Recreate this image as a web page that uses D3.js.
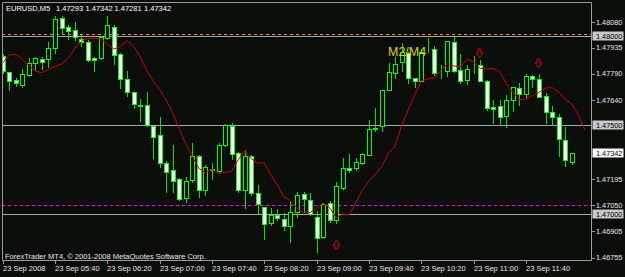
<!DOCTYPE html>
<html>
<head>
<meta charset="utf-8">
<title>EURUSD M5</title>
<script src="https://d3js.org/d3.v7.min.js"></script>
<style>
body { margin: 0; background: #0b0d0b; }
svg text { font-family: "Liberation Sans", Arial, sans-serif; }
</style>
</head>
<body>
<div id="chart"></div>
<script>
// 5 minute bars from 23 Sep 05:00
var opens = [1.47889,1.47798,1.47752,1.47728,1.47782,1.47848,1.47871,1.47871,1.47932,1.48101,
  1.48050,1.48035,1.47985,1.47969,1.47876,1.47876,1.47988,1.48054,1.47899,1.47760,
  1.47685,1.47614,1.47614,1.47496,1.47445,1.47287,1.47249,1.47197,1.47090,1.47189,
  1.47328,1.47137,1.47248,1.47245,1.47389,1.47496,1.47343,1.47137,1.47328,1.47118,
  1.47040,1.46950,1.46997,1.46973,1.46931,1.47012,1.47113,1.47081,1.46984,1.46869,
  1.47062,1.46965,1.47146,1.47259,1.47262,1.47290,1.47333,1.47480,1.47498,1.47698,
  1.47795,1.47854,1.47904,1.47764,1.47750,1.47920,1.47927,1.47803,1.47805,1.47966,
  1.47810,1.47754,1.47830,1.47839,1.47750,1.47601,1.47610,1.47554,1.47642,1.47708,
  1.47674,1.47777,1.47758,1.47665,1.47573,1.47545,1.47414,1.47293];
var highs = [1.47900,1.47800,1.47765,1.47814,1.47880,1.47885,1.47885,1.47969,1.48114,1.48114,
  1.48063,1.48078,1.48007,1.47979,1.47885,1.48003,1.48114,1.48063,1.47908,1.47807,
  1.47689,1.47646,1.47689,1.47498,1.47545,1.47296,1.47389,1.47205,1.47211,1.47402,
  1.47333,1.47277,1.47287,1.47400,1.47507,1.47515,1.47350,1.47361,1.47330,1.47161,
  1.47042,1.47034,1.47028,1.47006,1.47071,1.47127,1.47127,1.47120,1.47015,1.47062,
  1.47071,1.47183,1.47315,1.47338,1.47318,1.47345,1.47530,1.47595,1.47700,1.47848,
  1.47885,1.47960,1.47913,1.47766,1.47927,1.47988,1.47945,1.47839,1.47973,1.47994,
  1.47900,1.47839,1.47889,1.47867,1.47752,1.47642,1.47642,1.47670,1.47717,1.47739,
  1.47786,1.47780,1.47788,1.47680,1.47608,1.47563,1.47489,1.47342];
var lows = [1.47795,1.47698,1.47721,1.47717,1.47777,1.47810,1.47815,1.47826,1.47904,1.48013,
  1.47983,1.47979,1.47947,1.47862,1.47807,1.47872,1.47983,1.47842,1.47708,1.47665,
  1.47595,1.47524,1.47496,1.47315,1.47267,1.47127,1.47127,1.47080,1.47066,1.47183,
  1.47099,1.47109,1.47197,1.47230,1.47384,1.47309,1.47127,1.47034,1.47105,1.47006,
  1.46860,1.46940,1.46965,1.46912,1.46843,1.46984,1.47012,1.46995,1.46785,1.46866,
  1.46958,1.46950,1.47140,1.47236,1.47249,1.47283,1.47330,1.47470,1.47468,1.47695,
  1.47764,1.47805,1.47739,1.47717,1.47748,1.47913,1.47782,1.47764,1.47778,1.47801,
  1.47739,1.47732,1.47792,1.47748,1.47586,1.47515,1.47502,1.47489,1.47582,1.47614,
  1.47657,1.47713,1.47657,1.47511,1.47502,1.47328,1.47271,1.47281];
var closes = [1.47805,1.47749,1.47737,1.47788,1.47848,1.47876,1.47857,1.47932,1.48097,1.48045,
  1.48028,1.47997,1.47969,1.47867,1.47867,1.47997,1.48063,1.47895,1.47760,1.47685,
  1.47618,1.47607,1.47502,1.47436,1.47287,1.47236,1.47187,1.47086,1.47187,1.47328,
  1.47137,1.47264,1.47254,1.47389,1.47502,1.47339,1.47137,1.47328,1.47118,1.47056,
  1.46944,1.46993,1.46978,1.46931,1.47012,1.47105,1.47086,1.47000,1.46866,1.47056,
  1.46965,1.47159,1.47259,1.47249,1.47292,1.47339,1.47479,1.47486,1.47698,1.47798,
  1.47842,1.47910,1.47764,1.47750,1.47913,1.47925,1.47795,1.47807,1.47973,1.47805,
  1.47750,1.47814,1.47835,1.47750,1.47595,1.47590,1.47545,1.47642,1.47713,1.47676,
  1.47777,1.47758,1.47661,1.47573,1.47548,1.47421,1.47305,1.47342];

// shifted moving average (runs two bars past the last candle)
var ma = [1.47850,1.47895,1.47900,1.47869,1.47836,1.47805,1.47794,1.47813,1.47830,1.47844,
  1.47875,1.47931,1.47971,1.47988,1.47988,1.47985,1.47956,1.47928,1.47942,1.47976,
  1.47945,1.47885,1.47810,1.47749,1.47701,1.47642,1.47569,1.47479,1.47395,1.47322,
  1.47257,1.47232,1.47252,1.47227,1.47236,1.47239,1.47305,1.47356,1.47311,1.47287,
  1.47288,1.47221,1.47165,1.47097,1.47075,1.47033,1.47006,1.47009,1.47034,1.47062,
  1.47036,1.46980,1.47000,1.46996,1.47064,1.47134,1.47187,1.47224,1.47271,1.47344,
  1.47384,1.47496,1.47586,1.47670,1.47749,1.47760,1.47766,1.47808,1.47847,1.47833,
  1.47827,1.47871,1.47855,1.47820,1.47816,1.47819,1.47799,1.47735,1.47684,1.47645,
  1.47645,1.47667,1.47684,1.47709,1.47711,1.47687,1.47645,1.47620,1.47558,1.47474];

var priceTicks = [1.48080, 1.47935, 1.47790, 1.47640, 1.47195, 1.47050, 1.46905, 1.46755];
var levelPrices = [1.48000, 1.47500, 1.47000];
var lastPrice = 1.47342;
var orangeLevel = 1.48012;
var magentaLevel = 1.47050;
var timeTickBars = [0, 8, 16, 24, 32, 40, 48, 56, 64, 72, 80];
var timeLabels = ["23 Sep 2008", "23 Sep 05:40", "23 Sep 06:20", "23 Sep 07:00", "23 Sep 07:40",
  "23 Sep 08:20", "23 Sep 09:00", "23 Sep 09:40", "23 Sep 10:20", "23 Sep 11:00", "23 Sep 11:40"];
var downArrowBars = [73, 82], downArrowPrices = [1.47906, 1.47851];
var upArrowBars = [51], upArrowPrices = [1.46832];
var headerParts = ["EURUSD,M5", "1.47293", "1.47342", "1.47281", "1.47342"];

var W = 625, H = 277,
    pLeft = 2, pTop = 2, pRight = 591, pBottom = 260;

var x = d3.scaleLinear().domain([0, 80]).range([2.7, 525.9]);
var y = d3.scaleLinear().domain([1.46755, 1.48080]).range([257.7, 22]);

var svg = d3.select('#chart').append('svg')
    .attr('width', W).attr('height', H)
    .style('display', 'block');

svg.append('rect').attr('width', W).attr('height', H).attr('fill', '#0b0d0b');

svg.append('defs').append('clipPath').attr('id', 'plot')
  .append('rect').attr('x', pLeft).attr('y', pTop).attr('width', pRight - pLeft).attr('height', pBottom - pTop);

var plot = svg.append('g').attr('clip-path', 'url(#plot)');

function py(p) { return Math.round(y(p)) + 0.5; }
function px(i) { return Math.round(x(i)); }

// level lines
plot.selectAll('.lvl').data(levelPrices).enter().append('line')
  .attr('x1', pLeft).attr('x2', pRight)
  .attr('y1', py).attr('y2', py)
  .attr('stroke', '#a8a8a8').attr('stroke-width', 1);

plot.append('line').attr('x1', pLeft).attr('x2', pRight)
  .attr('y1', py(orangeLevel)).attr('y2', py(orangeLevel))
  .attr('stroke', '#ff8c00').attr('stroke-dasharray', '3,3');

plot.append('line').attr('x1', pLeft).attr('x2', pRight)
  .attr('y1', py(magentaLevel)).attr('y2', py(magentaLevel))
  .attr('stroke', '#ff00ff').attr('stroke-dasharray', '3,3');

// candles
var bars = d3.range(opens.length);
var cg = plot.append('g');

cg.selectAll('.wick').data(bars).enter().append('line')
  .attr('x1', function(i) { return px(i) + 0.5; })
  .attr('x2', function(i) { return px(i) + 0.5; })
  .attr('y1', function(i) { return Math.round(y(highs[i])); })
  .attr('y2', function(i) { return Math.round(y(lows[i])) + 1; })
  .attr('stroke', '#00e000');

cg.selectAll('.body').data(bars).enter().append('rect')
  .attr('x', function(i) { return px(i) - 2 + 0.5; })
  .attr('y', function(i) { return py(Math.max(opens[i], closes[i])); })
  .attr('width', 4)
  .attr('height', function(i) {
    return Math.max(0, py(Math.min(opens[i], closes[i])) - py(Math.max(opens[i], closes[i])));
  })
  .attr('fill', function(i) { return closes[i] < opens[i] ? '#ffffff' : '#0b0d0b'; })
  .attr('stroke', '#00ff00');

// moving average
plot.append('path')
  .datum(ma)
  .attr('d', d3.line().x(function(d, i) { return x(i); }).y(function(d) { return y(d); }))
  .attr('fill', 'none').attr('stroke', '#c80000').attr('stroke-width', 1);

// signal arrows
function arrow(cx, cy, dir) {
  var s = dir, t = cy - 4.5 * s;
  return 'M' + (cx - 1.5) + ',' + t +
    'L' + (cx + 1.5) + ',' + t +
    'L' + (cx + 1.5) + ',' + (t + 4 * s) +
    'L' + (cx + 3.5) + ',' + (t + 4 * s) +
    'L' + cx + ',' + (t + 9 * s) +
    'L' + (cx - 3.5) + ',' + (t + 4 * s) +
    'L' + (cx - 1.5) + ',' + (t + 4 * s) + 'Z';
}
plot.selectAll('.dn').data(downArrowBars).enter().append('path')
  .attr('d', function(b, k) { return arrow(px(b) - 0.5, py(downArrowPrices[k]), 1); })
  .attr('fill', 'none').attr('stroke', '#d00000');
plot.selectAll('.up').data(upArrowBars).enter().append('path')
  .attr('d', function(b, k) { return arrow(px(b) + 0.5, py(upArrowPrices[k]), -1); })
  .attr('fill', 'none').attr('stroke', '#d00000');

// object label
plot.append('text').attr('x', 388).attr('y', 56)
  .attr('font-size', 12.5).attr('fill', '#d8d800').text('M2/M4');

// frame
svg.append('path')
  .attr('d', 'M' + (pLeft + 0.5) + ',' + (pBottom + 0.5) + 'V' + (pTop + 0.5) + 'H' + (pRight + 0.5) + 'V' + (pBottom + 0.5) + 'H' + (pLeft + 0.5))
  .attr('fill', 'none').attr('stroke', '#9a9a9a');

// header and copyright
var hx = [6, 56, 85.5, 114.5, 144];
svg.selectAll('.hdr').data(headerParts).enter().append('text')
  .attr('x', function(d, i) { return hx[i]; }).attr('y', 11)
  .attr('font-size', 7.5).attr('fill', '#ffffff').text(function(d) { return d; });

svg.append('text').attr('x', 5).attr('y', 259)
  .attr('font-size', 7.5).attr('fill', '#e8e8e8')
  .text('ForexTrader MT4, \u00a9 2001-2008 MetaQuotes Software Corp.');

// time axis
svg.selectAll('.tt').data(timeTickBars).enter().append('line')
  .attr('x1', function(b) { return px(b) + 0.5; }).attr('x2', function(b) { return px(b) + 0.5; })
  .attr('y1', pBottom).attr('y2', pBottom + 4)
  .attr('stroke', '#9a9a9a');
svg.selectAll('.tl').data(timeTickBars).enter().append('text')
  .attr('x', function(b) { return px(b); }).attr('y', 271)
  .attr('font-size', 7.5).attr('fill', '#e8e8e8')
  .text(function(b, i) { return timeLabels[i]; });

// price axis
svg.selectAll('.pt').data(priceTicks).enter().append('line')
  .attr('x1', pRight).attr('x2', pRight + 4)
  .attr('y1', py).attr('y2', py)
  .attr('stroke', '#9a9a9a');
svg.selectAll('.pl').data(priceTicks).enter().append('text')
  .attr('x', 596).attr('y', function(p) { return y(p) + 2.6; })
  .attr('font-size', 7.3).attr('fill', '#e8e8e8')
  .text(function(p) { return p.toFixed(5); });

var boxed = levelPrices.concat([lastPrice]);
var bg = svg.selectAll('.bx').data(boxed).enter().append('g');
bg.append('rect')
  .attr('x', 592.5).attr('y', function(p) { return Math.round(y(p)) - 4.5; })
  .attr('width', 31).attr('height', 9)
  .attr('fill', function(p) { return p === lastPrice ? '#ffffff' : '#c8c8c8'; });
bg.append('text')
  .attr('x', 596).attr('y', function(p) { return y(p) + 2.6; })
  .attr('font-size', 7.3).attr('fill', '#000000')
  .text(function(p) { return p.toFixed(5); });
</script>
</body>
</html>
